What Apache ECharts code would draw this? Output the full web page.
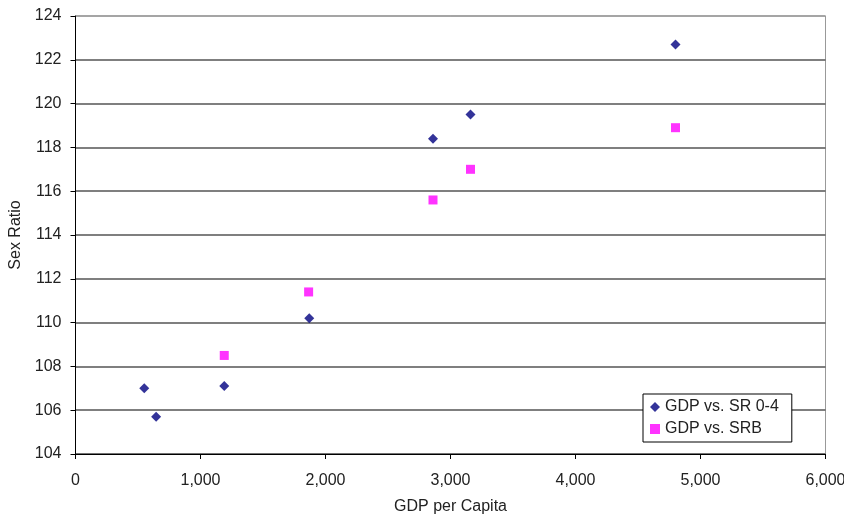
<!DOCTYPE html>
<html>
<head>
<meta charset="utf-8">
<script src="https://cdn.jsdelivr.net/npm/echarts@6/dist/echarts.min.js"></script>
<style>html,body{margin:0;padding:0;background:#fff;}#c{width:844px;height:516px;}</style>
</head>
<body>
<div id="c"></div>
<script>
var gdpSR04 = [550, 645, 1190, 1870, 2860, 3160, 4800];
var sr04 = [107.0, 105.7, 107.1, 110.2, 118.4, 119.5, 122.7];
var gdpSRB = [1190, 1865, 2860, 3160, 4800];
var srb = [108.5, 111.4, 115.6, 117.0, 118.9];
var seriesNames = ['GDP vs. SR 0-4', 'GDP vs. SRB'];
var xName = 'GDP per Capita';
var yName = 'Sex Ratio';

function pairs(xs, ys) { return xs.map(function (x, i) { return [x, ys[i]]; }); }

var font = 'Liberation Sans, Arial, sans-serif';
var txt = '#222';
var chart = echarts.init(document.getElementById('c'), null, { renderer: 'canvas' });
var gridColors = [];
for (var i = 0; i < 10; i++) gridColors.push('#555');
gridColors.push('#999');
chart.setOption({
  animation: false,
  backgroundColor: '#fff',
  grid: { left: 75.5, top: 16, right: 18.5, bottom: 62, show: true, borderColor: '#999', borderWidth: 1,
    backgroundColor: 'transparent', containLabel: false, outerBoundsMode: 'none' },
  xAxis: {
    type: 'value', min: 0, max: 6000, interval: 1000,
    name: xName, nameLocation: 'middle', nameGap: 45,
    nameTextStyle: { fontFamily: font, fontSize: 16, color: txt },
    axisLine: { show: true, lineStyle: { color: '#000', width: 1 } },
    axisTick: { show: true, length: 5, lineStyle: { color: '#000' } },
    axisLabel: { fontFamily: font, fontSize: 16, color: txt, margin: 19,
      formatter: function (v) { return v.toString().replace(/\B(?=(\d{3})+(?!\d))/g, ','); } },
    splitLine: { show: false }
  },
  yAxis: {
    type: 'value', min: 104, max: 124, interval: 2,
    name: yName, nameLocation: 'middle', nameGap: 47, nameRotate: 90,
    nameTextStyle: { fontFamily: font, fontSize: 16, color: txt },
    axisLine: { show: true, lineStyle: { color: '#000', width: 1 } },
    axisTick: { show: true, length: 5, lineStyle: { color: '#000' } },
    axisLabel: { fontFamily: font, fontSize: 16, color: txt, margin: 14 },
    splitLine: { show: true, lineStyle: { color: gridColors, width: 1.5 } }
  },
  legend: {
    orient: 'vertical', left: 643, top: 394,
    borderColor: '#000', borderWidth: 1, backgroundColor: '#fff',
    padding: [5, 13, 5, 7], itemGap: 6, itemWidth: 10, itemHeight: 10,
    textStyle: { fontFamily: font, fontSize: 16, color: txt },
    data: [{ name: seriesNames[0], icon: 'diamond' }, { name: seriesNames[1], icon: 'rect' }]
  },
  series: [
    { name: seriesNames[0], type: 'scatter', symbol: 'diamond', symbolSize: 10,
      itemStyle: { color: '#000080' }, data: pairs(gdpSR04, sr04) },
    { name: seriesNames[1], type: 'scatter', symbol: 'rect', symbolSize: 9,
      itemStyle: { color: '#ff00ff' }, data: pairs(gdpSRB, srb) }
  ]
});
</script>
</body>
</html>
